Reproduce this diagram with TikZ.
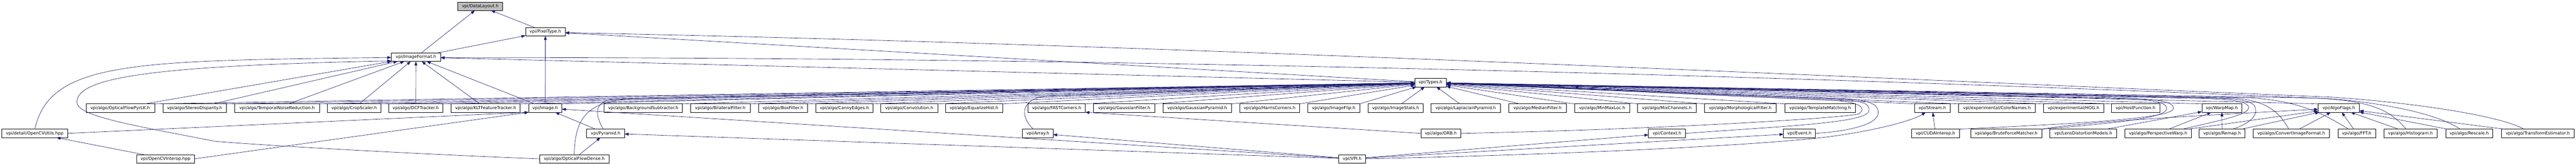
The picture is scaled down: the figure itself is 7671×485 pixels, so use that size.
\documentclass[tikz,border=0pt]{standalone}
\usepackage{fontspec}
\setmainfont{DejaVu Sans}
\usetikzlibrary{arrows.meta}
\definecolor{edgeblue}{HTML}{191970}
\definecolor{rootgray}{HTML}{BFBFBF}
\begin{document}
\begin{tikzpicture}[x=1pt,y=-1pt,
  box/.style={draw=black, line width=0.9pt, fill=white, minimum height=25pt, inner sep=0pt, outer sep=0pt, font=\fontsize{12.7pt}{15pt}\selectfont, text=black},
  edge/.style={draw=edgeblue, line width=1pt, -{Triangle[length=12pt,width=8.5pt]}}]
\useasboundingbox (0,0) rectangle (7671,485);
\fill[white] (0,0) rectangle (7671,485);
% rank 0-3
\node[box,fill=rootgray,minimum width=134pt] (DL) at (1430,18.5) {vpi/DataLayout.h};
\node[box,minimum width=118pt] (PT) at (1624,94) {vpi/PixelType.h};
\node[box,minimum width=147pt] (IF) at (1238.5,169.5) {vpi/ImageFormat.h};
\node[box,minimum width=94pt] (TY) at (4260,245) {vpi/Types.h};
% rank 4
\node[box,minimum width=204pt] (OFPLK) at (358,320.5) {vpi/algo/OpticalFlowPyrLK.h};
\node[box,minimum width=189pt] (SD) at (579.5,320.5) {vpi/algo/StereoDisparity.h};
\node[box,minimum width=252pt] (TNR) at (825,320.5) {vpi/algo/TemporalNoiseReduction.h};
\node[box,minimum width=159pt] (CS) at (1054.5,320.5) {vpi/algo/CropScaler.h};
\node[box,minimum width=162pt] (DCF) at (1238,320.5) {vpi/algo/DCFTracker.h};
\node[box,minimum width=206pt] (KLT) at (1446,320.5) {vpi/algo/KLTFeatureTracker.h};
\node[box,minimum width=99pt] (IMG) at (1623.5,320.5) {vpi/Image.h};
\node[box,minimum width=233pt] (BGS) at (1915.5,320.5) {vpi/algo/BackgroundSubtractor.h};
\node[box,minimum width=178pt] (BIL) at (2145,320.5) {vpi/algo/BilateralFilter.h};
\node[box,minimum width=147pt] (BOX) at (2331.5,320.5) {vpi/algo/BoxFilter.h};
\node[box,minimum width=171pt] (CAN) at (2514.5,320.5) {vpi/algo/CannyEdges.h};
\node[box,minimum width=169pt] (CONV) at (2707.5,320.5) {vpi/algo/Convolution.h};
\node[box,minimum width=171pt] (EQ) at (2900.5,320.5) {vpi/algo/EqualizeHist.h};
\node[box,minimum width=171pt] (FAST) at (3146.5,320.5) {vpi/algo/FASTCorners.h};
\node[box,minimum width=183pt] (GF) at (3347.5,320.5) {vpi/algo/GaussianFilter.h};
\node[box,minimum width=204pt] (GP) at (3565,320.5) {vpi/algo/GaussianPyramid.h};
\node[box,minimum width=179pt] (HC) at (3780.5,320.5) {vpi/algo/HarrisCorners.h};
\node[box,minimum width=155pt] (FLIP) at (3971.5,320.5) {vpi/algo/ImageFlip.h};
\node[box,minimum width=164pt] (STATS) at (4156,320.5) {vpi/algo/ImageStats.h};
\node[box,minimum width=207pt] (LAP) at (4364.5,320.5) {vpi/algo/LaplacianPyramid.h};
\node[box,minimum width=171pt] (MED) at (4578.5,320.5) {vpi/algo/MedianFilter.h};
\node[box,minimum width=164pt] (MML) at (4771,320.5) {vpi/algo/MinMaxLoc.h};
\node[box,minimum width=175pt] (MIX) at (4963.5,320.5) {vpi/algo/MixChannels.h};
\node[box,minimum width=214pt] (MORPH) at (5182,320.5) {vpi/algo/MorphologicalFilter.h};
\node[box,minimum width=210pt] (TM) at (5420,320.5) {vpi/algo/TemplateMatching.h};
\node[box,minimum width=106pt] (STR) at (5754,320.5) {vpi/Stream.h};
\node[box,minimum width=229pt] (CN) at (5946.5,320.5) {vpi/experimental/ColorNames.h};
\node[box,minimum width=179pt] (HOG) at (6174.5,320.5) {vpi/experimental/HOG.h};
\node[box,minimum width=143pt] (HF) at (6359.5,320.5) {vpi/HostFunction.h};
\node[box,minimum width=119pt] (WM) at (6616.5,320.5) {vpi/WarpMap.h};
\node[box,minimum width=123pt] (AF) at (6964.5,320.5) {vpi/AlgoFlags.h};
% rank 5
\node[box,minimum width=197pt] (OCVU) at (103.5,395.5) {vpi/detail/OpenCVUtils.hpp};
\node[box,minimum width=113pt] (PYR) at (1803.5,395.5) {vpi/Pyramid.h};
\node[box,minimum width=91pt] (ARR) at (3090.5,395.5) {vpi/Array.h};
\node[box,minimum width=119pt] (ORB) at (4290.5,395.5) {vpi/algo/ORB.h};
\node[box,minimum width=110pt] (CTX) at (4964,395.5) {vpi/Context.h};
\node[box,minimum width=95pt] (EVT) at (5358.5,395.5) {vpi/Event.h};
\node[box,minimum width=143pt] (CUDA) at (5763.5,395.5) {vpi/CUDAInterop.h};
\node[box,minimum width=212pt] (BFM) at (5974,395.5) {vpi/algo/BruteForceMatcher.h};
\node[box,minimum width=199pt] (LDM) at (6203.5,395.5) {vpi/LensDistortionModels.h};
\node[box,minimum width=199pt] (PW) at (6426.5,395.5) {vpi/algo/PerspectiveWarp.h};
\node[box,minimum width=136pt] (REMAP) at (6617,395.5) {vpi/algo/Remap.h};
\node[box,minimum width=228pt] (CIF) at (6823,395.5) {vpi/algo/ConvertImageFormat.h};
\node[box,minimum width=112pt] (FFT) at (7018,395.5) {vpi/algo/FFT.h};
\node[box,minimum width=158pt] (HIST) at (7178,395.5) {vpi/algo/Histogram.h};
\node[box,minimum width=140pt] (RESC) at (7353,395.5) {vpi/algo/Rescale.h};
\node[box,minimum width=216pt] (TE) at (7557,395.5) {vpi/algo/TransformEstimator.h};
% rank 6
\node[box,minimum width=172pt] (OCVI) at (493,471) {vpi/OpenCVInterop.hpp};
\node[box,minimum width=208pt] (OFD) at (1710,471) {vpi/algo/OpticalFlowDense.h};
\node[box,minimum width=79pt] (VPI) at (4026.5,471) {vpi/VPI.h};

% ---- edges ----
\draw[edge] (PT) -- (DL);
\draw[edge] (IF) -- (DL);
\draw[edge] (IF) -- (PT);
\draw[edge] (TY) -- (PT);
\draw[edge] (TY) -- (IF);
\draw[edge] (IMG) -- (PT);
\draw[edge] (IMG) -- (IF);
\draw[edge] (IMG.north east) -- (TY);
\foreach \n in {OFPLK,SD,TNR,CS,DCF,KLT} \draw[edge] (\n) -- (IF);
\foreach \n in {OFPLK,SD,TNR,CS,DCF,KLT,BGS,BIL,BOX,CAN,CONV,EQ,FAST,GF,GP,HC,FLIP} \draw[edge] (\n.north east) -- (TY);
\foreach \n in {STATS,LAP,MED,MML} \draw[edge] (\n) -- (TY);
\foreach \n in {MIX,MORPH,TM,STR,CN,HOG,HF,WM,AF} \draw[edge] (\n.north west) -- (TY);
% long curves from far right
\draw[edge] ([xshift=-41pt]TE.north) .. controls (7450,345) and (7200,305) .. (6941,288) .. controls (5300,220) and (3400,130) .. ([yshift=-3pt]PT.east);
\draw[edge] ([xshift=-27pt]RESC.north) .. controls (7280,350) and (7150,310) .. (6941,293) .. controls (5000,210) and (3000,168) .. ([yshift=-1.5pt]IF.east);
% OpenCV
\draw[edge] (OCVU.north) .. controls (150,180) and (400,180) .. ([yshift=-1pt]IF.west);
\draw[edge] (OCVU.east) -- (IMG.south west);
\draw[edge] (OCVI) -- (OCVU);
\draw[edge] (OCVI.east) -- (IMG.south west);
% OpticalFlowDense / Pyramid / Array
\draw[edge] (OFD.west) .. controls (1200,455) and (800,432) .. (640,419) .. controls (400,372) and (229,345) .. (229,303) .. controls (229,230) and (450,195) .. ([yshift=-11pt]IF.west);
\draw[edge] (OFD) -- (PYR);
\draw[edge] (OFD.north) .. controls (1712,360) and (1740,300) .. (1880,293) -- (TY);
\draw[edge] (PYR) -- (IMG);
\draw[edge] ([xshift=-7pt]PYR.north) .. controls (1768,335) and (1772,298) .. (1830,294) -- (TY);
\draw[edge] ([xshift=-13pt]ARR.north) .. controls (3035,345) and (3040,290) .. (3120,285) -- (TY);
% VPI.h
\draw[edge] (VPI) -- (IMG);
\draw[edge] (VPI) -- (PYR);
\draw[edge] (VPI) -- (ARR);
\draw[edge] (VPI) -- (CTX);
\draw[edge] (VPI) -- (EVT);
\draw[edge] (VPI.east) .. controls (4800,455) and (5300,425) .. (5450,405) .. controls (5600,385) and (5700,355) .. (STR);
% ORB, Context, Event loops
\draw[edge] (ORB.west) -- (FAST.south east);
\draw[edge] (ORB.east) .. controls (4900,385) and (5470,352) .. (5535,338) .. controls (5560,320) and (5540,302) .. (5450,297) -- (TY);
\draw[edge] (CTX.east) .. controls (5300,375) and (5555,365) .. (5565,330) .. controls (5572,305) and (5540,298) .. (5460,294) -- (TY);
\draw[edge] (EVT.east) .. controls (5500,390) and (5592,370) .. (5593,335) .. controls (5594,305) and (5560,296) .. (5470,291) -- (TY);
% CUDA, BruteForce, Lens
\draw[edge] (CUDA) -- (STR);
\draw[edge] (CUDA.north east) .. controls (6100,370) and (6470,355) .. (6472,322) .. controls (6474,300) and (6420,293) .. (6300,290) -- (TY);
\draw[edge] (BFM.north east) .. controls (6300,365) and (6452,350) .. (6452,322) .. controls (6452,302) and (6410,295) .. (6300,292) -- (TY);
\draw[edge] (BFM.north east) .. controls (6200,362) and (6500,345) .. (AF);
\draw[edge] (LDM) -- (WM);
% WarpMap / AlgoFlags group
\draw[edge] (PW) -- (WM);
\draw[edge] (REMAP) -- (WM);
\foreach \n in {PW,REMAP,CIF,FFT,HIST,RESC,TE} \draw[edge] (\n) -- (AF);
\draw[edge] ([xshift=-27pt]PW.north east) .. controls (6620,355) and (6698,340) .. (6696,318) .. controls (6694,300) and (6640,294) .. (6550,292) -- (TY);
\draw[edge] ([xshift=31pt]REMAP.north) .. controls (6720,360) and (6722,330) .. (6714,315) .. controls (6705,298) and (6660,292) .. (6560,290) -- (TY);
\draw[edge] ([xshift=-7pt]CIF.north) .. controls (6790,340) and (6760,298) .. (6650,291) -- (TY);
\draw[edge] ([xshift=-24pt]FFT.north) .. controls (6930,345) and (6860,300) .. (6700,290) -- (TY);
\draw[edge] ([xshift=-13pt]HIST.north) .. controls (7120,330) and (7070,300) .. (6900,291) -- (TY);
\end{tikzpicture}
\end{document}
